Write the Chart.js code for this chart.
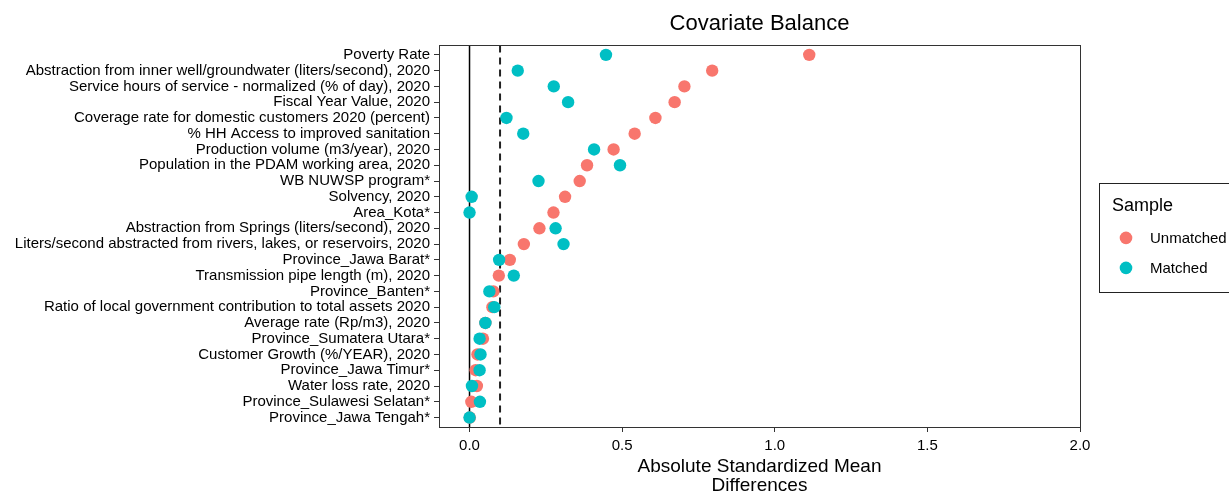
<!DOCTYPE html>
<html>
<head>
<meta charset="utf-8">
<title>Covariate Balance</title>
<script src="https://cdn.jsdelivr.net/npm/chart.js@4.4.1/dist/chart.umd.min.js"></script>
<style>
    html, body { margin: 0; padding: 0; background: #fff; overflow: hidden; }
    #wrap { width: 1229px; height: 494px; position: relative; }
</style>
</head>
<body>
<div id="wrap"><canvas id="balance"></canvas></div>
<script>
// covariates, top to bottom
const covariates = [
    'Poverty Rate',
    'Abstraction from inner well/groundwater (liters/second), 2020',
    'Service hours of service - normalized (% of day), 2020',
    'Fiscal Year Value, 2020',
    'Coverage rate for domestic customers 2020 (percent)',
    '% HH Access to improved sanitation',
    'Production volume (m3/year), 2020',
    'Population in the PDAM working area, 2020',
    'WB NUWSP program*',
    'Solvency, 2020',
    'Area_Kota*',
    'Abstraction from Springs (liters/second), 2020',
    'Liters/second abstracted from rivers, lakes, or reservoirs, 2020',
    'Province_Jawa Barat*',
    'Transmission pipe length (m), 2020',
    'Province_Banten*',
    'Ratio of local government contribution to total assets 2020',
    'Average rate (Rp/m3), 2020',
    'Province_Sumatera Utara*',
    'Customer Growth (%/YEAR), 2020',
    'Province_Jawa Timur*',
    'Water loss rate, 2020',
    'Province_Sulawesi Selatan*',
    'Province_Jawa Tengah*'
];

// absolute standardized mean differences
const unmatched = [1.113, 0.795, 0.704, 0.672, 0.609, 0.541, 0.472, 0.385, 0.361, 0.313, 0.275, 0.229,
    0.178, 0.132, 0.096, 0.078, 0.075, 0.052, 0.044, 0.026, 0.020, 0.024, 0.006, 0.001];
const matched = [0.447, 0.158, 0.276, 0.323, 0.121, 0.176, 0.408, 0.493, 0.226, 0.007, 0.0, 0.282,
    0.308, 0.097, 0.145, 0.065, 0.081, 0.052, 0.033, 0.036, 0.033, 0.008, 0.034, 0.0];

const xTicks = [0, 0.5, 1, 1.5, 2];
const threshold = 0.1;

const FONT = "'Liberation Sans', Arial, sans-serif";

function toPoints(values) {
    return values.map((v, i) => ({ x: v, y: i }));
}

// panel border + reference lines (under the points)
const panelLines = {
    id: 'panelLines',
    beforeDatasetsDraw(chart) {
        const { ctx, chartArea: a, scales } = chart;
        ctx.save();
        // zero line
        let px = scales.x.getPixelForValue(0);
        ctx.strokeStyle = '#000';
        ctx.lineWidth = 1.5;
        ctx.beginPath();
        ctx.moveTo(px, a.top);
        ctx.lineTo(px, a.bottom);
        ctx.stroke();
        // threshold line
        px = scales.x.getPixelForValue(threshold);
        ctx.strokeStyle = '#222';
        ctx.lineWidth = 2;
        ctx.setLineDash([7, 5]);
        ctx.beginPath();
        ctx.moveTo(px, a.top);
        ctx.lineTo(px, a.bottom);
        ctx.stroke();
        ctx.restore();
    },
    afterDraw(chart) {
        const { ctx, chartArea: a } = chart;
        ctx.save();
        ctx.strokeStyle = '#333';
        ctx.lineWidth = 1;
        ctx.strokeRect(Math.round(a.left) + 0.5, Math.round(a.top) + 0.5,
            Math.round(a.right - a.left), Math.round(a.bottom - a.top));
        ctx.restore();
    }
};

// ggplot style legend box on the right
const sampleLegend = {
    id: 'sampleLegend',
    afterDraw(chart) {
        const { ctx, chartArea: a } = chart;
        const left = a.right + 19;
        const top = a.top + 137.5;
        ctx.save();
        ctx.strokeStyle = '#222';
        ctx.lineWidth = 1;
        ctx.strokeRect(Math.round(left) + 0.5, Math.round(top) + 0.5, 200, 109);

        ctx.fillStyle = '#000';
        ctx.textBaseline = 'middle';
        ctx.textAlign = 'left';
        ctx.font = '18px ' + FONT;
        ctx.fillText('Sample', left + 13, top + 23);

        ctx.font = '15px ' + FONT;
        const items = [chart.data.datasets[0], chart.data.datasets[1]];
        items.forEach((ds, i) => {
            const y = top + 55 + i * 30;
            ctx.fillStyle = ds.backgroundColor;
            ctx.beginPath();
            ctx.arc(left + 27, y, 6.3, 0, Math.PI * 2);
            ctx.fill();
            ctx.fillStyle = '#000';
            ctx.fillText(ds.label, left + 51, y + 1);
        });
        ctx.restore();
    }
};

const balanceChart = new Chart(document.getElementById('balance'), {
    type: 'scatter',
    data: {
        datasets: [
            {
                label: 'Unmatched',
                data: toPoints(unmatched),
                backgroundColor: '#F8766D',
                borderWidth: 0,
                pointRadius: 6.2,
                order: 1
            },
            {
                label: 'Matched',
                data: toPoints(matched),
                backgroundColor: '#00BFC4',
                borderWidth: 0,
                pointRadius: 6.2,
                order: 0
            }
        ]
    },
    options: {
        responsive: true,
        maintainAspectRatio: false,
        animation: false,
        devicePixelRatio: 1,
        layout: { padding: { left: 0, right: 149, top: 0, bottom: -1 } },
        plugins: {
            legend: { display: false },
            tooltip: { enabled: false },
            title: {
                display: true,
                text: 'Covariate Balance',
                fullSize: false,
                color: '#000',
                font: { family: FONT, size: 22, weight: 'normal', lineHeight: 1.2 },
                padding: { top: 11, bottom: 8 }
            }
        },
        scales: {
            x: {
                type: 'linear',
                min: -0.1,
                max: 2.0,
                afterBuildTicks: (scale) => { scale.ticks = xTicks.map(v => ({ value: v })); },
                ticks: {
                    color: '#000',
                    padding: 6.5,
                    font: { family: FONT, size: 15, lineHeight: 1 },
                    callback: (v) => v.toFixed(1)
                },
                grid: { drawOnChartArea: false, tickLength: 5, color: '#333' },
                border: { display: true, color: '#333' },
                title: {
                    display: true,
                    text: ['Absolute Standardized Mean', 'Differences'],
                    color: '#000',
                    font: { family: FONT, size: 19, lineHeight: 1 },
                    padding: { top: -3, bottom: 0 }
                }
            },
            y: {
                type: 'linear',
                reverse: true,
                min: -0.6,
                max: covariates.length - 0.4,
                afterBuildTicks: (scale) => { scale.ticks = covariates.map((c, i) => ({ value: i })); },
                afterFit: (scale) => { scale.width = 439; },
                ticks: {
                    autoSkip: false,
                    color: '#000',
                    padding: 4,
                    font: { family: FONT, size: 15 },
                    callback: (v) => covariates[v]
                },
                grid: { drawOnChartArea: false, tickLength: 5, color: '#333' },
                border: { display: true, color: '#333' }
            }
        }
    },
    plugins: [panelLines, sampleLegend]
});
</script>
</body>
</html>
